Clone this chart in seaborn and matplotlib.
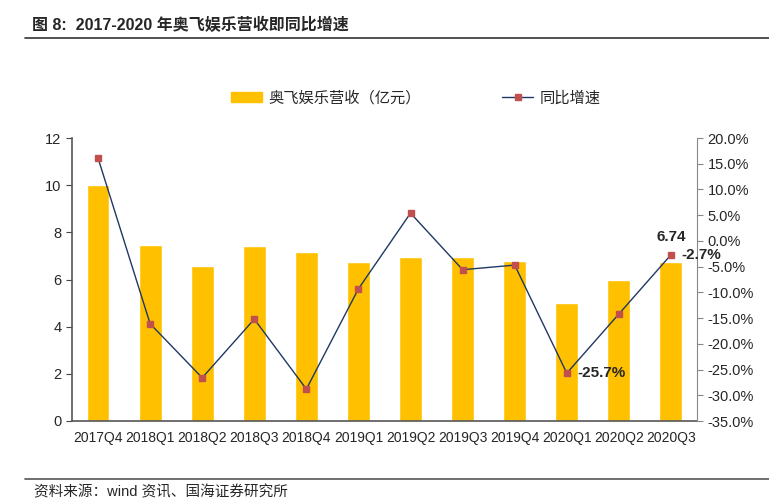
import numpy as np
import pandas as pd
import matplotlib
matplotlib.use("Agg")
import matplotlib.pyplot as plt
import seaborn as sns
from matplotlib.ticker import FuncFormatter
from matplotlib.lines import Line2D
from matplotlib.patches import Patch

quarters = ["2017Q4", "2018Q1", "2018Q2", "2018Q3", "2018Q4", "2019Q1",
            "2019Q2", "2019Q3", "2019Q4", "2020Q1", "2020Q2", "2020Q3"]
revenue = [10.0, 7.46, 6.57, 7.42, 7.16, 6.74, 6.95, 6.95, 6.78, 5.0, 5.97, 6.74]
yoy = [16.1, -16.1, -26.6, -15.2, -28.8, -9.3, 5.4, -5.6, -4.7, -25.7, -14.2, -2.7]

sns.set_style("white")
plt.rcParams['font.family'] = ['Liberation Sans', 'Noto Sans CJK SC', 'DejaVu Sans']

df = pd.DataFrame({"quarter": quarters, "revenue": revenue, "yoy": yoy})

fig = plt.figure(figsize=(7.69, 5.03), dpi=100)
ax = fig.add_axes([72 / 769, 1 - 421 / 503, (697 - 72) / 769, (421 - 138) / 503])

bar_color = "#FFC000"
sns.barplot(data=df, x="quarter", y="revenue", color=bar_color, width=0.44,
            saturation=1, ax=ax)
ax.set_ylim(0, 12)
ax.set_yticks(range(0, 13, 2))
ax.set_xlabel("")
ax.set_ylabel("")
ax.tick_params(axis="y", labelsize=10.5, length=4, color="#444444", direction="out", left=True)
ax.tick_params(axis="x", labelsize=10, bottom=False, pad=4)
for s in ["top", "right"]:
    ax.spines[s].set_visible(False)
for s in ["left", "bottom"]:
    ax.spines[s].set_color("#555555")
    ax.spines[s].set_linewidth(1.2)

ax2 = ax.twinx()
x = np.arange(len(quarters))
ax2.plot(x, df["yoy"], color="#1F3864", lw=1, marker="s", markersize=5,
         markerfacecolor="#C0504D", markeredgecolor="#C0504D")
ax2.set_ylim(-35, 20)
ax2.set_yticks(np.arange(-35, 20.1, 5))
ax2.yaxis.set_major_formatter(FuncFormatter(lambda v, p: f"{v:.1f}%"))
ax2.tick_params(axis="y", labelsize=10.5, length=4, color="#888888", right=True)
for s in ["top", "left", "bottom"]:
    ax2.spines[s].set_visible(False)
ax2.spines["right"].set_color("#888888")
ax.set_xlim(-0.5, len(quarters) - 0.5)

# annotations
ax.text(x[-1], revenue[-1] + 0.75, f"{revenue[-1]:.2f}", ha="center", va="bottom",
        fontsize=11, fontweight="bold")
ax2.text(x[-1] + 0.2, yoy[-1], f"{yoy[-1]:.1f}%", ha="left", va="center",
         fontsize=11, fontweight="bold")
ax2.text(x[9] + 0.2, yoy[9], f"{yoy[9]:.1f}%", ha="left", va="center",
         fontsize=11, fontweight="bold")

handles = [Patch(color=bar_color),
           Line2D([0], [0], color="#1F3864", lw=1, marker="s", markersize=5,
                  markerfacecolor="#C0504D", markeredgecolor="#C0504D")]
fig.legend(handles, ["奥飞娱乐营收（亿元）", "同比增速"], loc="center",
           bbox_to_anchor=(416 / 769, 1 - 98 / 503), ncol=2, frameon=False,
           fontsize=11, columnspacing=5.3, handlelength=2.0, handletextpad=0.45)

fig.text(32 / 769, 1 - 25 / 503, "图 8:  2017-2020 年奥飞娱乐营收即同比增速",
         fontsize=11.5, fontweight="bold", va="center")
fig.add_artist(Line2D([25 / 769, 1], [1 - 38 / 503, 1 - 38 / 503], color="#333333", lw=1.2))
fig.add_artist(Line2D([25 / 769, 1], [1 - 479 / 503, 1 - 479 / 503], color="#555555", lw=1.2))
fig.text(34 / 769, 1 - 492 / 503, "资料来源：wind 资讯、国海证券研究所",
         fontsize=10.5, va="center")

fig.savefig("out.png", dpi=100)
